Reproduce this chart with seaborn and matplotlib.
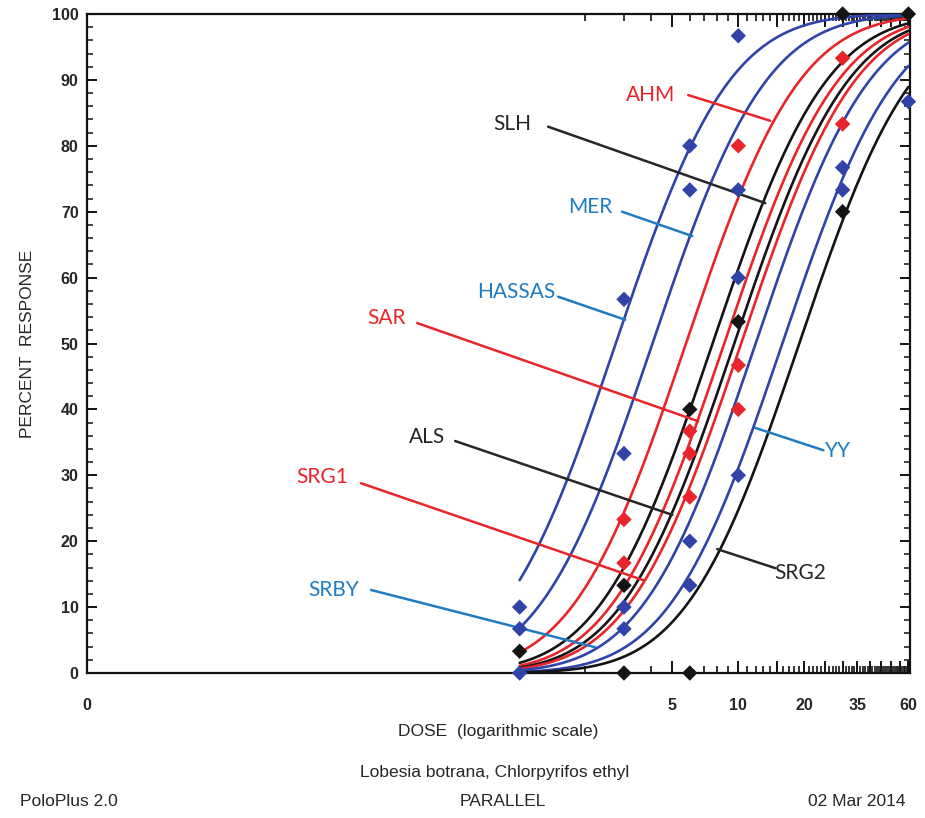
import math
import numpy as np
import pandas as pd
import matplotlib
matplotlib.use("Agg")
import matplotlib.pyplot as plt
from matplotlib.ticker import FixedLocator, FixedFormatter, NullFormatter
import seaborn as sns

# ---------------- data ----------------
populations = ["HASSAS", "MER", "AHM", "SLH", "SAR", "ALS", "SRG1", "SRBY", "YY", "SRG2"]
pop_colour = ["blue", "blue", "red", "black", "red", "black", "red", "blue", "blue", "black"]
ld50 = [2.75, 4.05, 5.76, 7.63, 8.62, 9.58, 10.3, 12.0, 15.9, 19.0]   # dose at 50 % response
slope = 2.45                                                         # common (parallel) probit slope
dose_range = [1, 60]

point_dose = [1, 1, 1, 3, 3, 3, 3, 6, 6, 6, 6, 10, 10, 10, 10, 30, 30, 60,
              3, 3, 6, 6, 6, 10, 10, 10, 30, 30,
              1, 3, 3, 6, 6, 10, 30, 30, 60]
point_pct = [10, 6.7, 0, 56.7, 33.3, 10, 6.7, 80, 73.3, 20, 13.3, 96.7, 73.3, 60, 30, 76.7, 73.3, 86.7,
             23.3, 16.7, 36.7, 33.3, 26.7, 80, 46.7, 40, 93.3, 83.3,
             3.3, 13.3, 0, 40, 0, 53.3, 100, 70, 100]
point_colour = ["blue"] * 18 + ["red"] * 10 + ["black"] * 9

# label text position and leader line (dose, percent)
label_text = ["AHM", "SLH", "MER", "HASSAS", "SAR", "ALS", "SRG1", "SRBY", "YY", "SRG2"]
label_x = [3.96, 0.93, 2.10, 0.964, 0.245, 0.376, 0.125, 0.141, 28.7, 19.2]
label_y = [87.7, 83.3, 70.7, 57.8, 53.9, 35.8, 29.7, 12.6, 33.7, 15.2]
leader_x0 = [5.90, 1.35, 2.94, 1.50, 0.340, 0.507, 0.188, 0.209, 11.96, 8.01]
leader_y0 = [87.7, 82.9, 70.0, 57.1, 53.1, 35.2, 28.8, 12.6, 37.2, 18.8]
leader_x1 = [14.0, 13.3, 6.16, 3.04, 6.56, 4.99, 3.67, 2.22, 24.5, 14.8]
leader_y1 = [83.8, 71.3, 66.3, 53.6, 38.2, 24.0, 14.1, 3.9, 33.8, 15.9]
label_colour = ["red", "black", "blue", "blue", "red", "black", "red", "blue", "blue", "black"]

x_tick_values = [5, 10, 15, 20, 25, 30, 35, 40, 45, 50, 55, 60]
x_tick_labels = ["5", "10", "", "20", "", "", "35", "", "", "", "", "60"]
y_ticks = list(range(0, 101, 10))

# ---------------- styling ----------------
curve_col = {"blue": "#3043a8", "red": "#e8252b", "black": "#141414"}
text_col = {"blue": "#1f7cc2", "red": "#e8252b", "black": "#262626"}

sns.set_style("white")
plt.rcParams["font.family"] = ["Liberation Sans", "DejaVu Sans"]

fig = plt.figure(figsize=(9.25, 8.18), dpi=100)
ax = fig.add_axes([87 / 925, 1 - 673 / 818, (910 - 87) / 925, (673 - 14) / 818])

# probit curves
def phi(z):
    return 0.5 * (1 + math.erf(z / math.sqrt(2)))

rows = []
grid = np.logspace(np.log10(dose_range[0]), np.log10(dose_range[1]), 300)
for name, col, l50 in zip(populations, pop_colour, ld50):
    for d in grid:
        rows.append((name, col, d, 100 * phi(slope * (np.log10(d) - np.log10(l50)))))
curves = pd.DataFrame(rows, columns=["pop", "colour", "dose", "pct"])

for name, col in zip(populations, pop_colour):
    sub = curves[curves["pop"] == name]
    sns.lineplot(data=sub, x="dose", y="pct", color=curve_col[col], lw=1.9,
                 estimator=None, sort=False, ax=ax, legend=False, zorder=3)

pts = pd.DataFrame({"dose": point_dose, "pct": point_pct, "colour": point_colour})
sns.scatterplot(data=pts, x="dose", y="pct", hue="colour", palette=curve_col,
                marker="D", s=62, linewidth=0, legend=False, ax=ax, zorder=5, clip_on=False)

for t, tx, ty, x0, y0, x1, y1, c in zip(label_text, label_x, label_y, leader_x0, leader_y0,
                                        leader_x1, leader_y1, label_colour):
    ax.plot([x0, x1], [y0, y1], color=text_col[c], lw=1.8, zorder=4)
    ax.text(tx, ty, t, color=text_col[c], fontsize=15, family=["Lato", "DejaVu Sans"],
            ha="center", va="center", zorder=6)

ax.set_xscale("log")
ax.set_xlim(0.0105, 61)
ax.set_ylim(0, 100)

ax.xaxis.set_major_locator(FixedLocator([0.0105] + x_tick_values))
ax.xaxis.set_major_formatter(FixedFormatter(["0"] + x_tick_labels))
ax.xaxis.set_minor_locator(FixedLocator(list(range(2, 61))))
ax.xaxis.set_minor_formatter(NullFormatter())
ax.yaxis.set_major_locator(FixedLocator(y_ticks))
ax.yaxis.set_minor_locator(FixedLocator(list(range(0, 101, 2))))

ax.tick_params(axis="both", which="both", direction="in", top=True, right=True,
               bottom=True, left=True, color="#111")
ax.tick_params(axis="x", which="major", length=9, width=1.4, pad=18, labelsize=11.5)
ax.tick_params(axis="x", which="minor", length=5, width=1.2)
ax.tick_params(axis="y", which="major", length=7, width=1.4, pad=6, labelsize=11.5)
ax.tick_params(axis="y", which="minor", length=4, width=1.1)
for lab in ax.get_xticklabels() + ax.get_yticklabels():
    lab.set_fontweight("bold")

for s in ax.spines.values():
    s.set_visible(True)
    s.set_linewidth(1.6)
    s.set_color("#111")

ax.set_xlabel("DOSE  (logarithmic scale)", fontsize=12.5, labelpad=8)
ax.set_ylabel("PERCENT  RESPONSE", fontsize=12.5, labelpad=12)

fig.text(495 / 925, 1 - 773 / 818, "Lobesia botrana, Chlorpyrifos ethyl", ha="center", va="center", fontsize=12.5)
fig.text(20 / 925, 1 - 802 / 818, "PoloPlus 2.0", ha="left", va="center", fontsize=12.5)
fig.text(503 / 925, 1 - 802 / 818, "PARALLEL", ha="center", va="center", fontsize=12.5)
fig.text(905 / 925, 1 - 802 / 818, "02 Mar 2014", ha="right", va="center", fontsize=12.5)

fig.savefig("out.png", dpi=100)
